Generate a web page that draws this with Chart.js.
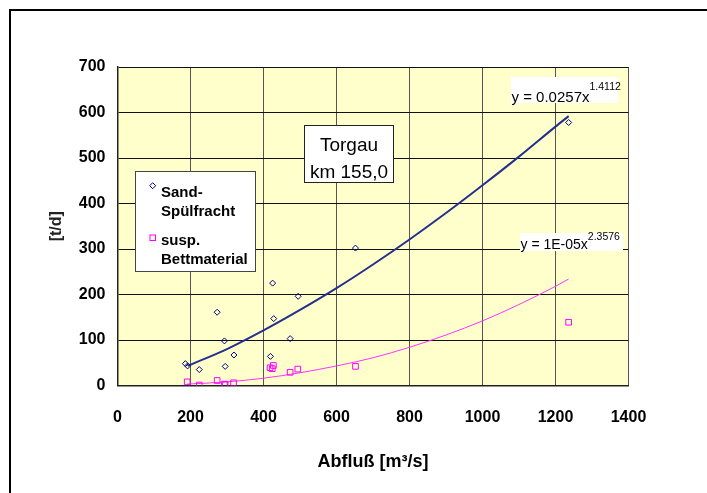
<!DOCTYPE html>
<html><head><meta charset="utf-8">
<script src="https://cdn.jsdelivr.net/npm/chart.js@4/dist/chart.umd.min.js"></script>
<style>html,body{margin:0;padding:0;background:#fff;}</style>
</head><body>
<canvas id="c" width="707" height="493"></canvas>
<script>
// ---- data ----
const sandDischarge = [186, 192, 224, 273, 293, 295, 319, 419, 425, 428, 473, 495, 652, 1236];
const sandLoad      = [48, 43, 35, 161, 98, 42, 67, 64, 225, 147, 103, 196, 302, 578];
const suspDischarge = [191, 224, 273, 293, 295, 318, 418, 424, 427, 473, 494, 652, 1236];
const suspLoad      = [8, 1, 11, 3, 2, 6, 39, 37, 44, 29, 36, 42, 139];
// trend curves
const sandTrendQ = [192, 300, 400, 500, 600, 700, 800, 900, 1000, 1100, 1200, 1236];
const sandTrendY = [43, 80, 121, 166, 214, 266, 321, 379, 440, 503, 569, 592];
const suspTrendQ = [190, 300, 400, 500, 600, 700, 800, 900, 1000, 1100, 1200, 1236];
const suspTrendY = [3, 8, 16, 28, 43, 61, 84, 111, 142, 178, 218, 234];
const xTickValues = [0, 200, 400, 600, 800, 1000, 1200, 1400];
const yTickValues = [0, 100, 200, 300, 400, 500, 600, 700];
const seriesNames = [['Sand-', 'Spülfracht'], ['susp.', 'Bettmaterial']];
const stationText = ['Torgau', 'km 155,0'];
const sandEq = ['y = 0.0257x', '1.4112'];
const suspEq = ['y = 1E-05x', '2.3576'];

const FONT = '"Liberation Sans", Arial, sans-serif';
const toXY = (xs, ys) => xs.map((x, i) => ({x: x, y: ys[i]}));

const decor = {
  id: 'decor',
  beforeDraw(chart) {
    const ctx = chart.ctx, a = chart.chartArea;
    ctx.save();
    ctx.fillStyle = '#FFFFCC';
    ctx.fillRect(a.left, a.top, a.right - a.left, a.bottom - a.top);
    ctx.strokeStyle = '#000';
    ctx.lineWidth = 2;
    ctx.beginPath();
    ctx.moveTo(10, 493); ctx.lineTo(10, 10); ctx.lineTo(707, 10);
    ctx.stroke();
    ctx.restore();
  },
  afterDraw(chart) {
    const ctx = chart.ctx;
    ctx.save();
    // legend box
    ctx.fillStyle = '#fff';
    ctx.fillRect(135, 171, 121, 101);
    ctx.strokeStyle = '#444'; ctx.lineWidth = 1;
    ctx.strokeRect(135.5, 171.5, 120, 100);
    // markers
    ctx.strokeStyle = '#000080'; ctx.lineWidth = 1;
    ctx.beginPath();
    ctx.moveTo(152.7, 182.7); ctx.lineTo(155.7, 185.7); ctx.lineTo(152.7, 188.7); ctx.lineTo(149.7, 185.7); ctx.closePath();
    ctx.stroke();
    ctx.strokeStyle = '#FF00FF';
    ctx.strokeRect(150, 235, 5.5, 5.5);
    ctx.fillStyle = '#000';
    ctx.font = 'bold 15px ' + FONT;
    ctx.textAlign = 'left'; ctx.textBaseline = 'alphabetic';
    ctx.fillText(seriesNames[0][0], 161, 196.5);
    ctx.fillText(seriesNames[0][1], 161, 215.5);
    ctx.fillText(seriesNames[1][0], 161, 244.5);
    ctx.fillText(seriesNames[1][1], 161, 264);
    // station box
    ctx.fillStyle = '#fff';
    ctx.fillRect(304, 125, 90, 58);
    ctx.strokeStyle = '#222';
    ctx.strokeRect(304.5, 125.5, 89, 57);
    ctx.fillStyle = '#000';
    ctx.font = '19px ' + FONT;
    ctx.textAlign = 'center';
    ctx.fillText(stationText[0], 349, 151);
    ctx.fillText(stationText[1], 349, 178);
    // equations
    function eq(t, x, bw, bh, by, base, supBase, fs) {
      ctx.fillStyle = '#fff';
      ctx.fillRect(x, by, bw, bh);
      ctx.fillStyle = '#000';
      ctx.textAlign = 'left';
      ctx.font = fs + 'px ' + FONT;
      ctx.fillText(t[0], x + 0.5, base);
      const w = ctx.measureText(t[0]).width;
      ctx.font = '10.5px ' + FONT;
      ctx.fillText(t[1], x + 0.5 + w, supBase);
    }
    eq(sandEq, 511, 107, 26, 77, 101.5, 90, 15);
    eq(suspEq, 520, 103, 18, 233, 249, 240, 14);
    ctx.restore();
  }
};

const plainTick = v => String(v);

new Chart(document.getElementById('c'), {
  type: 'scatter',
  data: {
    datasets: [
      {label: seriesNames[0].join(''), data: toXY(sandDischarge, sandLoad), pointStyle: 'rectRot',
       pointRadius: 3, borderColor: '#000080', backgroundColor: 'rgba(0,0,0,0)', borderWidth: 1, order: 1},
      {label: seriesNames[1].join(''), data: toXY(suspDischarge, suspLoad), pointStyle: 'rect',
       pointRadius: 4, borderColor: '#FF00FF', backgroundColor: 'rgba(0,0,0,0)', borderWidth: 1, order: 1},
      {type: 'line', label: 'trend1', data: toXY(sandTrendQ, sandTrendY), showLine: true, pointRadius: 0,
       borderColor: '#25308C', borderWidth: 2, cubicInterpolationMode: 'monotone', fill: false, order: 2},
      {type: 'line', label: 'trend2', data: toXY(suspTrendQ, suspTrendY), showLine: true, pointRadius: 0,
       borderColor: '#FF33FF', borderWidth: 1, cubicInterpolationMode: 'monotone', fill: false, order: 2}
    ]
  },
  options: {
    responsive: false, animation: false, devicePixelRatio: 1,
    layout: {padding: {top: 67, right: 78.5, bottom: 0, left: 0}},
    plugins: {legend: {display: false}, tooltip: {enabled: false}},
    scales: {
      x: {
        type: 'linear', min: 0, max: 1400,
        afterBuildTicks: s => { s.ticks = xTickValues.map(v => ({value: v})); },
        afterFit: s => { s.height = 107.5; },
        ticks: {color: '#000', font: {family: FONT, size: 16, weight: 'bold'}, padding: 22, callback: plainTick},
        grid: {color: '#555', lineWidth: 1, drawTicks: false},
        border: {color: '#222', width: 1.5},
        title: {display: true, text: 'Abfluß [m³/s]', color: '#000', font: {family: FONT, size: 18, weight: 'bold'}, padding: {top: 0, bottom: 20}}
      },
      y: {
        type: 'linear', min: 0, max: 700,
        afterBuildTicks: s => { s.ticks = yTickValues.map(v => ({value: v})); },
        afterFit: s => { s.width = 117.5; },
        ticks: {color: '#000', font: {family: FONT, size: 16, weight: 'bold'}, padding: 12, callback: plainTick},
        grid: {color: '#111', lineWidth: 1, drawTicks: false},
        border: {color: '#222', width: 1.5},
        title: {display: true, text: '[t/d]', color: '#222', font: {family: FONT, size: 16, weight: 'bold'}, padding: {top: 47, bottom: 0}}
      }
    }
  },
  plugins: [decor]
});
</script>
</body></html>
